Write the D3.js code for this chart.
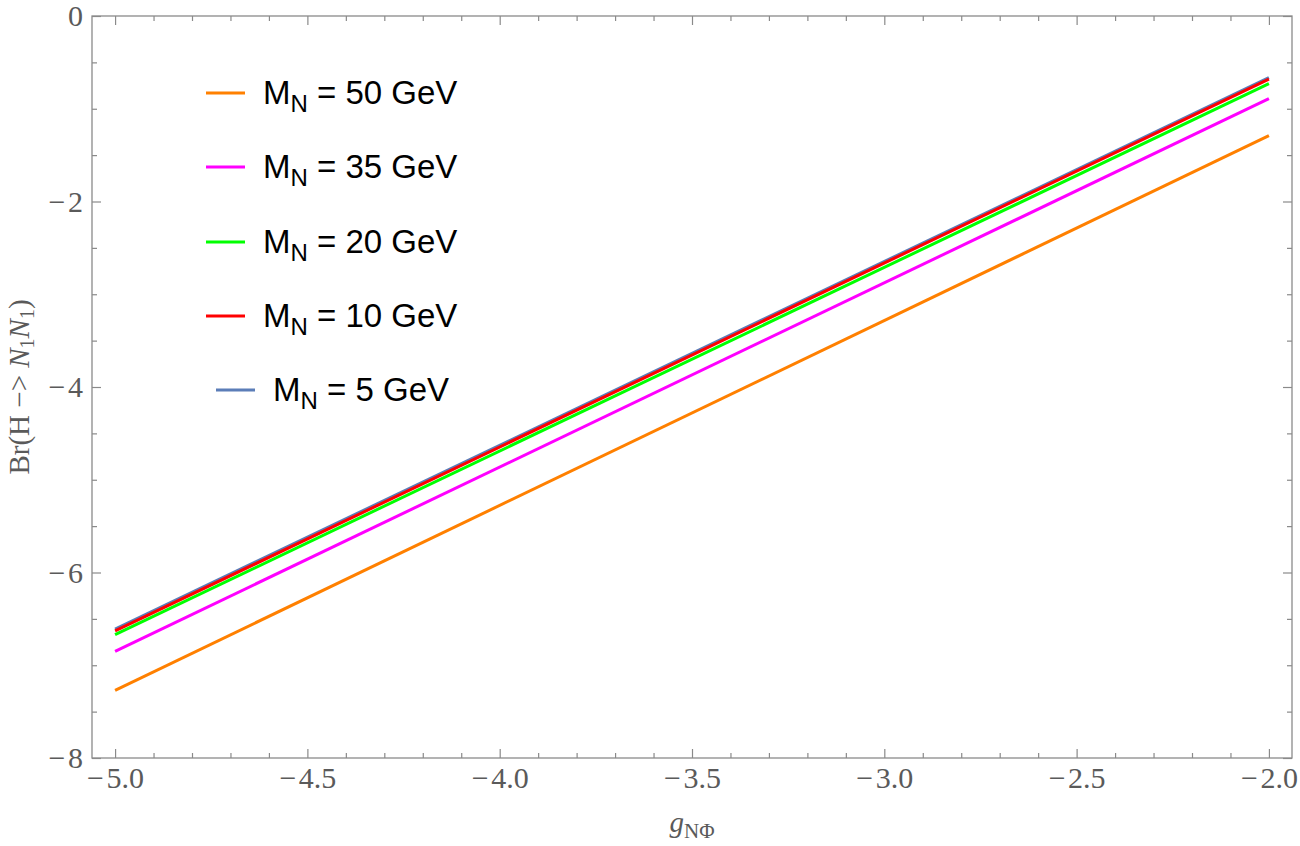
<!DOCTYPE html>
<html lang="en">
<head>
  <meta charset="UTF-8">
  <title>Br(H -> N1N1) vs g</title>
  <style>
    body {
      margin: 0;
      padding: 0;
      background-color: white;
    }
    .frame {
      fill: none;
      stroke: #8a8a8a;
      stroke-width: 1.3;
    }
    .axis path {
      display: none;
    }
    .axis line {
      stroke: #8a8a8a;
      stroke-width: 1.2;
    }
    .axis text {
      font-family: "Liberation Serif", "DejaVu Serif", serif;
      font-size: 30px;
      fill: #5a5a5a;
    }
    .series {
      fill: none;
      stroke-width: 3;
    }
    .legend-text {
      font-family: "Liberation Sans", Arial, sans-serif;
      font-size: 33px;
      fill: black;
    }
    .axis-label {
      font-family: "Liberation Serif", "DejaVu Serif", serif;
      font-size: 29px;
      fill: #5a5a5a;
    }
  </style>
</head>
<body>
  <div id="chart"></div>

  <script src="https://d3js.org/d3.v7.min.js"></script>
  <script>
    // values (log10 scale on both axes)
    var gValues = [-5.0, -2.0];
    var br50 = [-7.27, -1.29];
    var br35 = [-6.85, -0.89];
    var br20 = [-6.67, -0.73];
    var br10 = [-6.63, -0.68];
    var br5 = [-6.61, -0.665];

    var seriesNames = ["50", "35", "20", "10", "5"];
    var seriesColors = ["#ff8000", "#ff00ff", "#00ff00", "#ff0000", "#5b7db8"];
    var seriesValues = [br50, br35, br20, br10, br5];

    var xMajorTicks = [-5.0, -4.5, -4.0, -3.5, -3.0, -2.5, -2.0];
    var yMajorTicks = [0, -2, -4, -6, -8];

    var width = 1300, height = 846;
    var plotLeft = 92, plotRight = 1292, plotTop = 16, plotBottom = 758;

    var svg = d3.select("#chart").append("svg")
      .attr("width", width)
      .attr("height", height);

    var x = d3.scaleLinear().domain([-5.06, -1.94]).range([plotLeft, plotRight]);
    var y = d3.scaleLinear().domain([-8, 0]).range([plotBottom, plotTop]);

    function minus(v, digits) {
      var s = Math.abs(v).toFixed(digits);
      return v < 0 ? "\u2212\u200a" + s : s;
    }

    // minor tick values
    var xMinor = d3.range(-50, -19).map(function(d) { return d / 10; })
      .filter(function(d) { return xMajorTicks.indexOf(d) < 0; });
    var yMinor = d3.range(-16, 1).map(function(d) { return d / 2; })
      .filter(function(d) { return yMajorTicks.indexOf(d) < 0; });

    // bottom axis
    svg.append("g").attr("class", "axis")
      .attr("transform", "translate(0," + plotBottom + ")")
      .call(d3.axisTop(x).tickValues(xMajorTicks).tickSize(9).tickFormat(""));
    svg.append("g").attr("class", "axis")
      .attr("transform", "translate(0," + plotBottom + ")")
      .call(d3.axisTop(x).tickValues(xMinor).tickSize(5).tickFormat(""));
    svg.append("g").attr("class", "axis")
      .attr("transform", "translate(0," + plotBottom + ")")
      .call(d3.axisBottom(x).tickValues(xMajorTicks).tickSize(0).tickPadding(9)
        .tickFormat(function(d) { return minus(d, 1); }))
      .selectAll("text").attr("dy", "0.71em");

    // top axis
    svg.append("g").attr("class", "axis")
      .attr("transform", "translate(0," + plotTop + ")")
      .call(d3.axisBottom(x).tickValues(xMajorTicks).tickSize(9).tickFormat(""));
    svg.append("g").attr("class", "axis")
      .attr("transform", "translate(0," + plotTop + ")")
      .call(d3.axisBottom(x).tickValues(xMinor).tickSize(5).tickFormat(""));

    // left axis
    svg.append("g").attr("class", "axis")
      .attr("transform", "translate(" + plotLeft + ",0)")
      .call(d3.axisRight(y).tickValues(yMajorTicks).tickSize(9).tickFormat(""));
    svg.append("g").attr("class", "axis")
      .attr("transform", "translate(" + plotLeft + ",0)")
      .call(d3.axisRight(y).tickValues(yMinor).tickSize(5).tickFormat(""));
    svg.append("g").attr("class", "axis")
      .attr("transform", "translate(" + plotLeft + ",0)")
      .call(d3.axisLeft(y).tickValues(yMajorTicks).tickSize(0).tickPadding(9)
        .tickFormat(function(d) { return minus(d, 0); }));

    // right axis
    svg.append("g").attr("class", "axis")
      .attr("transform", "translate(" + plotRight + ",0)")
      .call(d3.axisLeft(y).tickValues(yMajorTicks).tickSize(9).tickFormat(""));
    svg.append("g").attr("class", "axis")
      .attr("transform", "translate(" + plotRight + ",0)")
      .call(d3.axisLeft(y).tickValues(yMinor).tickSize(5).tickFormat(""));

    // frame
    svg.append("rect")
      .attr("class", "frame")
      .attr("x", plotLeft)
      .attr("y", plotTop)
      .attr("width", plotRight - plotLeft)
      .attr("height", plotBottom - plotTop);

    // lines, drawn blue first so red sits on top
    var line = d3.line()
      .x(function(d, i) { return x(gValues[i]); })
      .y(function(d) { return y(d); });

    for (var i = seriesValues.length - 1; i >= 0; i--) {
      svg.append("path")
        .datum(seriesValues[i])
        .attr("class", "series")
        .attr("stroke", seriesColors[i])
        .attr("d", line);
    }

    // legend
    var legendY = [93, 167, 242, 316, 390];
    var legendX = [206, 206, 206, 206, 216];
    var legend = svg.append("g").attr("class", "legend");
    seriesNames.forEach(function(name, i) {
      legend.append("line")
        .attr("x1", legendX[i]).attr("x2", legendX[i] + 39)
        .attr("y1", legendY[i]).attr("y2", legendY[i])
        .attr("stroke", seriesColors[i])
        .attr("stroke-width", 3);
      var t = legend.append("text")
        .attr("class", "legend-text")
        .attr("x", legendX[i] + 57)
        .attr("y", legendY[i] + 11);
      t.append("tspan").text("M");
      t.append("tspan").attr("dy", 8).style("font-size", "24px").text("N");
      t.append("tspan").attr("dy", -8).text(" = " + name + " GeV");
    });

    // x label
    var xl = svg.append("text")
      .attr("class", "axis-label")
      .attr("x", (plotLeft + plotRight) / 2)
      .attr("y", 832)
      .attr("text-anchor", "middle");
    xl.append("tspan").style("font-style", "italic").text("g");
    xl.append("tspan").attr("dy", 6).style("font-size", "21px").text("N\u03a6");

    // y label
    var yl = svg.append("text")
      .attr("class", "axis-label")
      .attr("transform", "translate(29," + ((plotTop + plotBottom) / 2) + ") rotate(-90)")
      .attr("text-anchor", "middle");
    yl.append("tspan").text("Br(H \u2212> ");
    yl.append("tspan").style("font-style", "italic").text("N");
    yl.append("tspan").attr("dy", 5).style("font-size", "20px").text("1");
    yl.append("tspan").attr("dy", -5).style("font-style", "italic").text("N");
    yl.append("tspan").attr("dy", 5).style("font-size", "20px").text("1");
    yl.append("tspan").attr("dy", -5).text(")");
  </script>
</body>
</html>
